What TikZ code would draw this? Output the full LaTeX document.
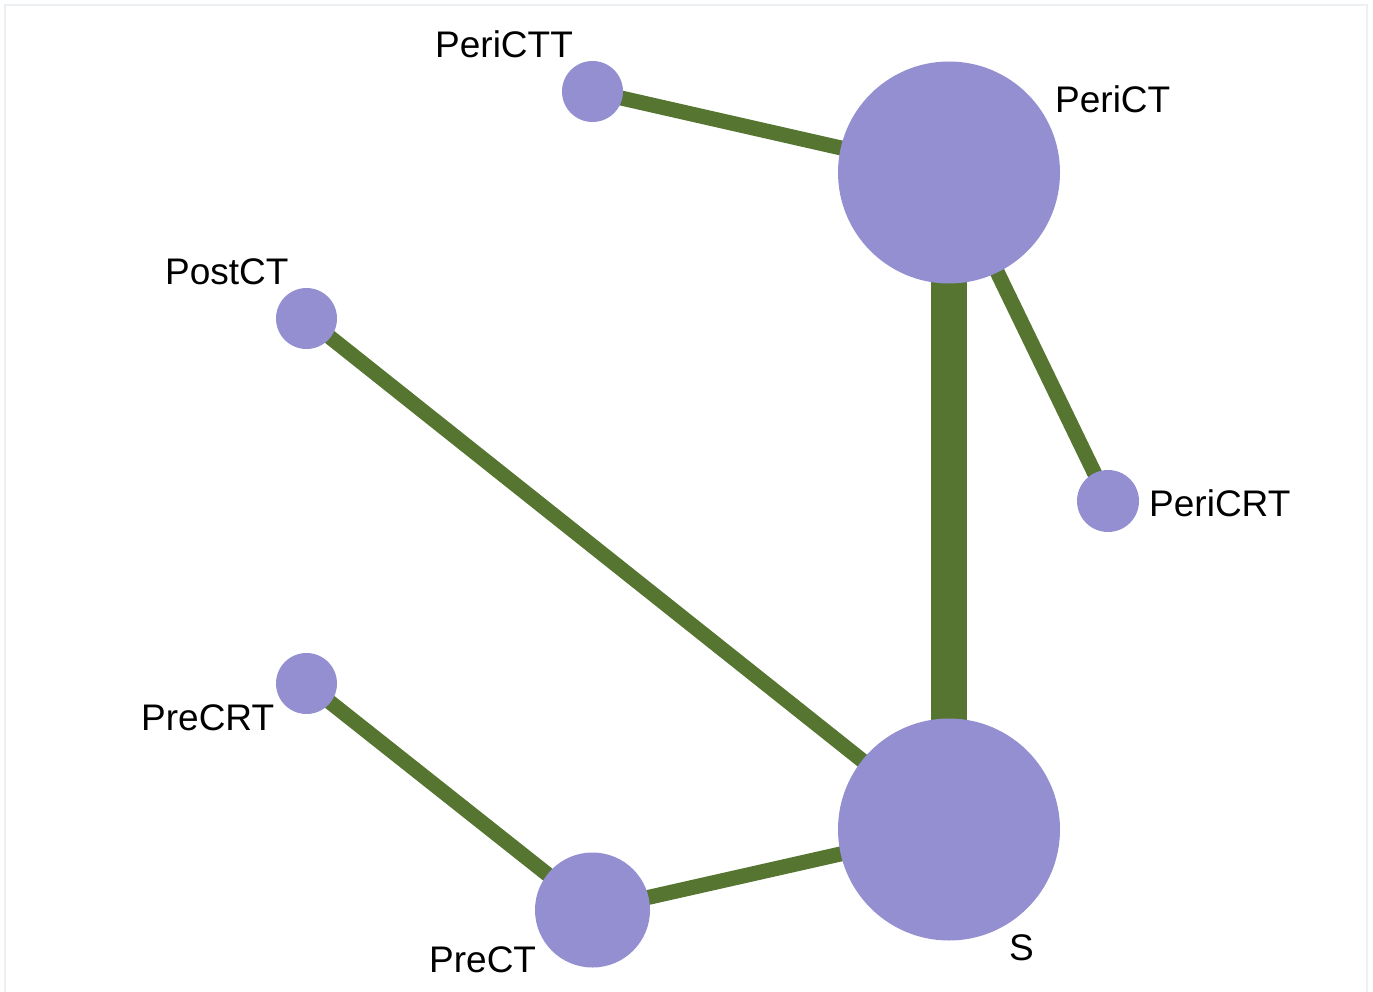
\documentclass[tikz,border=0pt]{standalone}
\usepackage{fontspec}
\setmainfont{Liberation Sans}
\usetikzlibrary{backgrounds}
\definecolor{nodepurple}{RGB}{148,143,209}
\definecolor{edgegreen}{RGB}{86,117,48}
\definecolor{framegray}{RGB}{236,240,242}
\begin{document}
\begin{tikzpicture}[x=1pt,y=-1pt,
  vertex/.style={circle,fill=nodepurple,draw=none,inner sep=0pt,minimum size=#1},
  link/.style={draw=edgegreen,line width=#1},
  lbl/.style={anchor=base west,inner sep=0pt,font=\fontsize{37}{44}\selectfont,text=black}]
\useasboundingbox (0,0) rectangle (1373,992);
% nodes
\node[vertex=222pt] (PeriCT) at (949,172.5) {};
\node[vertex=222pt] (S) at (949,829.5) {};
\node[vertex=61pt] (PeriCTT) at (592.5,91.5) {};
\node[vertex=61pt] (PostCT) at (306.5,318.5) {};
\node[vertex=62pt] (PeriCRT) at (1108,501) {};
\node[vertex=61pt] (PreCRT) at (306.5,683.5) {};
\node[vertex=115pt] (PreCT) at (592.5,910) {};
% background, frame and edges
\begin{pgfonlayer}{background}
\fill[white] (0,0) rectangle (1373,992);
\draw[framegray,line width=1.5pt] (5,992) -- (5,5) -- (1367,5) -- (1367,992);
\draw[link=15pt] (PeriCTT.center) -- (PeriCT.center);
\draw[link=36pt] (PeriCT.center) -- (S.center);
\draw[link=15pt] (PeriCT.center) -- (PeriCRT.center);
\draw[link=15pt] (PostCT.center) -- (S.center);
\draw[link=15pt] (PreCRT.center) -- (PreCT.center);
\draw[link=15pt] (PreCT.center) -- (S.center);
\end{pgfonlayer}
% labels
\node[lbl] (lPeriCTT) at (435,58) {PeriCTT};
\node[lbl] (lPeriCT) at (1055,113) {PeriCT};
\node[lbl] (lPostCT) at (165,285) {PostCT};
\node[lbl] (lPeriCRT) at (1149,516) {PeriCRT};
\node[lbl] (lPreCRT) at (141,730) {PreCRT};
\node[lbl] (lPreCT) at (429,972) {PreCT};
\node[lbl] (lS) at (1009,960) {S};
\end{tikzpicture}
\end{document}
